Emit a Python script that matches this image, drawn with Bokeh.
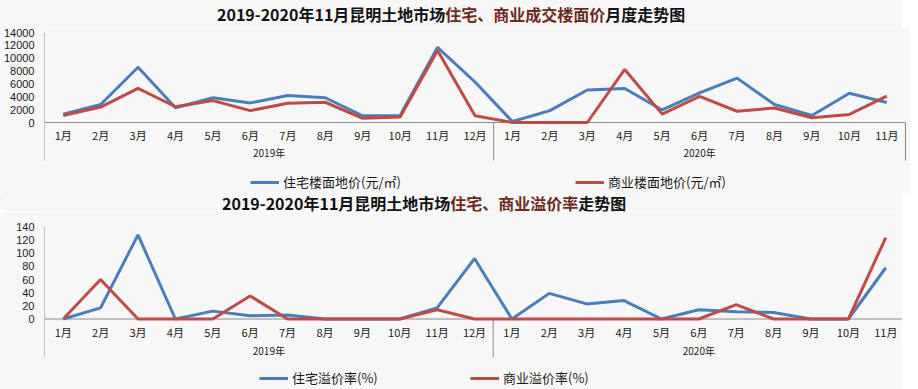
import numpy as np
from bokeh.plotting import figure
from bokeh.models import Range1d, FixedTicker, Legend, LegendItem, Div
from bokeh.layouts import column
from bokeh.core.properties import value
from bokeh.embed import file_html
from bokeh.resources import INLINE

# ---------------- data ----------------
years = ["2019年", "2020年"]
months_2019 = ["1月", "2月", "3月", "4月", "5月", "6月", "7月", "8月", "9月", "10月", "11月", "12月"]
months_2020 = ["1月", "2月", "3月", "4月", "5月", "6月", "7月", "8月", "9月", "10月", "11月"]

# 楼面地价 (元/㎡)
res_price = [1300, 2800, 8600, 2300, 3850, 3050, 4200, 3850, 1050, 1100, 11700, 6300,
             150, 1850, 5050, 5300, 1950, 4600, 6900, 2800, 1100, 4550, 3100]
com_price = [1100, 2400, 5300, 2450, 3400, 1850, 3000, 3150, 650, 850, 11200, 1050,
             0, 0, 0, 8250, 1300, 4050, 1750, 2250, 750, 1250, 4100]

# 溢价率 (%)
res_premium = [0, 17, 128, 0, 12, 5, 6, 0, 0, 0, 17, 92,
               0, 39, 23, 28, 0, 14, 11, 10, 0, 0, 78]
com_premium = [0, 60, 0, 0, 0, 35, 0, 0, 0, 0, 14, 0,
               0, 0, 0, 0, 0, 0, 22, 0, 0, 0, 124]

title1_a, title1_b, title1_c = "2019-2020年11月昆明土地市场", "住宅、商业成交楼面价", "月度走势图"
title2_a, title2_b, title2_c = "2019-2020年11月昆明土地市场", "住宅、商业溢价率", "走势图"
legend1 = ["住宅楼面地价(元/㎡)", "商业楼面地价(元/㎡)"]
legend2 = ["住宅溢价率(%)", "商业溢价率(%)"]

# ---------------- style ----------------
BLUE = "#4a7ebb"
RED = "#be4b48"
BG = "#f7f7f7"
AXIS = "#8a8a8a"
TITLE_RED = "#6e2a1c"
CJK = "Noto Sans CJK SC"
PAGE_W = 902


def make_title(a, b, c, height, pad_left):
    html = (
        f'<div style="font-family:\'{CJK}\';font-weight:bold;font-size:16px;'
        f'line-height:{height}px;height:{height}px;white-space:nowrap;overflow:visible;'
        f'padding-left:{pad_left}px;color:#111;">'
        f'{a}<span style="color:{TITLE_RED}">{b}</span>{c}</div>'
    )
    return Div(text=html, width=PAGE_W, height=height, margin=0,
               styles={"background-color": BG})


def make_chart(s1, s2, labels, ymax, ystep, fig_top, fig_h, ax_left, ax_right,
               ytop_px, y0_px, month_px, year_px, sep_px, legend_px, legend_x):
    months = months_2019 + months_2020
    idx = np.arange(len(months))
    n = len(months)
    left_border = ax_left - 8
    frame_w = PAGE_W - left_border
    ux = n / (ax_right - ax_left)
    upp = ymax / (y0_px - ytop_px)

    def py(s):
        return (y0_px - s) * upp

    x_range = Range1d(-0.5, -0.5 + frame_w * ux)
    y_range = Range1d(py(fig_top + fig_h), py(fig_top))

    p = figure(frame_width=frame_w, frame_height=fig_h, x_range=x_range, y_range=y_range,
               output_backend="svg", toolbar_location=None, title=None,
               min_border_left=left_border, min_border_right=0,
               min_border_top=0, min_border_bottom=0)
    p.background_fill_color = BG
    p.border_fill_color = BG
    p.outline_line_color = None
    p.xaxis.visible = False
    p.xgrid.visible = False
    p.ygrid.visible = False

    ax = p.yaxis[0]
    ax.ticker = FixedTicker(ticks=list(range(0, ymax + 1, ystep)))
    ax.axis_line_color = None
    ax.major_tick_line_color = None
    ax.minor_tick_line_color = None
    ax.major_label_standoff = 4
    ax.major_label_text_font = "Liberation Sans"
    ax.major_label_text_font_size = "11px"
    ax.major_label_text_color = "#1a1a1a"

    n19 = len(months_2019)
    bottom = py(sep_px)
    # axis lines and year separators
    p.segment(x0=[-0.5], y0=[ymax], x1=[-0.5], y1=[bottom], line_color=AXIS, line_width=1)
    p.segment(x0=[-0.5], y0=[0], x1=[n - 0.5], y1=[0], line_color=AXIS, line_width=1)
    p.segment(x0=[n19 - 0.5, n - 0.5], y0=[0, 0], x1=[n19 - 0.5, n - 0.5], y1=[bottom, bottom],
              line_color=AXIS, line_width=1)

    r1 = p.line(idx, s1, line_color=BLUE, line_width=3)
    r2 = p.line(idx, s2, line_color=RED, line_width=3)

    p.text(x=idx, y=[py(month_px)] * n, text=months, text_align="center",
           text_baseline="middle", text_font=value(CJK), text_font_size="11px",
           text_color="#1a1a1a")
    year_x = [(n19 - 1) / 2, n19 + (len(months_2020) - 1) / 2]
    p.text(x=year_x, y=[py(year_px)] * 2, text=years, text_align="center",
           text_baseline="middle", text_font=value(CJK), text_font_size="10px",
           text_color="#1a1a1a")

    item_h = 16
    frame_bottom = fig_top + fig_h
    for r, lab, lx in zip([r1, r2], labels, legend_x):
        lg = Legend(items=[LegendItem(label=lab, renderers=[r])],
                    location=(lx - ax_left, frame_bottom - (legend_px + item_h / 2)),
                    orientation="horizontal", padding=0, margin=0, spacing=0,
                    glyph_width=29, glyph_height=item_h, label_height=item_h,
                    label_standoff=4, label_text_font=CJK, label_text_font_size="13px",
                    label_text_color="#1a1a1a", border_line_color=None,
                    background_fill_alpha=0)
        p.add_layout(lg)
    return p


div1 = make_title(title1_a, title1_b, title1_c, 28, 217)
p1 = make_chart(res_price, com_price, legend1, 14000, 2000,
                fig_top=28, fig_h=167, ax_left=44, ax_right=905,
                ytop_px=32, y0_px=122, month_px=134, year_px=152, sep_px=160,
                legend_px=183, legend_x=[250, 575])
div2 = make_title(title2_a, title2_b, title2_c, 16, 222)
p2 = make_chart(res_premium, com_premium, legend2, 140, 20,
                fig_top=211, fig_h=178, ax_left=39, ax_right=899,
                ytop_px=226.5, y0_px=318.5, month_px=331.7, year_px=350, sep_px=356.7,
                legend_px=379, legend_x=[267, 478])

layout = column(div1, p1, div2, p2, spacing=0)
open("out.html", "w").write(file_html(layout, INLINE))
